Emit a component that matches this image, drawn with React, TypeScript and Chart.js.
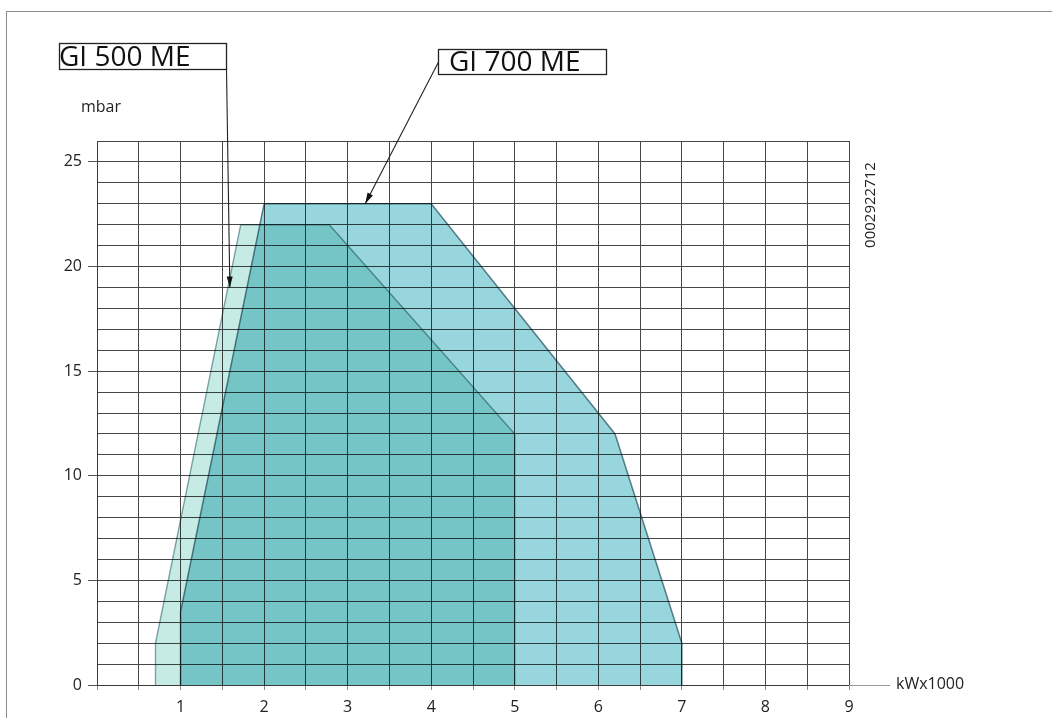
import React, { useEffect, useRef } from "react";
import { Chart, registerables } from "chart.js";

Chart.register(...registerables);

// GI 500 ME working field (kW x 1000 vs mbar)
const GI500_X = [0.7, 0.7, 1.72, 2.78, 5, 5];
const GI500_Y = [0, 2, 22, 22, 12, 0];
// GI 700 ME working field
const GI700_X = [1, 1, 2, 4, 6.2, 7, 7];
const GI700_Y = [0, 3.5, 23, 23, 12, 2, 0];

const X_TICK_LABELS = ["1", "2", "3", "4", "5", "6", "7", "8", "9"];
const Y_TICK_LABELS = ["0", "5", "10", "15", "20", "25"];

const SERIES_NAMES = ["GI 500 ME", "GI 700 ME"];
const Y_UNIT = "mbar";
const X_UNIT = "kWx1000";
const DOC_CODE = "0002922712";

const FONT = "'Open Sans', 'DejaVu Sans', sans-serif";

const toPoints = (xs: number[], ys: number[]) => xs.map((x, i) => ({ x, y: ys[i] }));

function drawArrow(ctx: CanvasRenderingContext2D, x0: number, y0: number, x1: number, y1: number) {
  ctx.beginPath();
  ctx.moveTo(x0, y0);
  ctx.lineTo(x1, y1);
  ctx.stroke();
  const a = Math.atan2(y1 - y0, x1 - x0);
  const len = 11;
  const w = 3;
  ctx.beginPath();
  ctx.moveTo(x1, y1);
  ctx.lineTo(x1 - len * Math.cos(a) + w * Math.sin(a), y1 - len * Math.sin(a) - w * Math.cos(a));
  ctx.lineTo(x1 - len * Math.cos(a) - w * Math.sin(a), y1 - len * Math.sin(a) + w * Math.cos(a));
  ctx.closePath();
  ctx.fill();
}

const blendPlugin = {
  id: "blendMultiply",
  beforeDatasetsDraw(chart: any) {
    chart.ctx.save();
    chart.ctx.globalCompositeOperation = "multiply";
  },
  afterDatasetsDraw(chart: any) {
    chart.ctx.restore();
  },
};

const annotationPlugin = {
  id: "annotations",
  afterDraw(chart: any) {
    const ctx: CanvasRenderingContext2D = chart.ctx;
    const xs = chart.scales.x;
    const ys = chart.scales.y;
    const area = chart.chartArea;
    ctx.save();
    ctx.globalCompositeOperation = "source-over";

    // x axis extension
    ctx.strokeStyle = "#9a9a9a";
    ctx.lineWidth = 1;
    ctx.beginPath();
    ctx.moveTo(area.right, Math.round(area.bottom) + 0.5);
    ctx.lineTo(890, Math.round(area.bottom) + 0.5);
    ctx.stroke();

    ctx.fillStyle = "#222";
    ctx.font = `16px ${FONT}`;
    ctx.textBaseline = "alphabetic";
    ctx.textAlign = "left";
    ctx.fillText(Y_UNIT, 81, 112);
    ctx.textBaseline = "middle";
    ctx.fillText(X_UNIT, 896, 684);

    // rotated document code
    ctx.save();
    ctx.translate(871, 205);
    ctx.rotate(-Math.PI / 2);
    ctx.textAlign = "center";
    ctx.textBaseline = "middle";
    ctx.font = `15px ${FONT}`;
    ctx.fillText(DOC_CODE, 0, 0);
    ctx.restore();

    // series label boxes
    ctx.strokeStyle = "#222";
    ctx.fillStyle = "#111";
    ctx.lineWidth = 1.3;
    ctx.font = `28px ${FONT}`;
    ctx.textAlign = "left";
    ctx.textBaseline = "alphabetic";

    ctx.strokeRect(59.5, 43.5, 167, 26);
    ctx.fillText(SERIES_NAMES[0], 59, 66);
    ctx.lineWidth = 1.1;
    drawArrow(ctx, 226.5, 69.5, xs.getPixelForValue(1.59), ys.getPixelForValue(19));

    ctx.lineWidth = 1.3;
    ctx.strokeRect(438.5, 49.5, 168, 25);
    ctx.fillText(SERIES_NAMES[1], 449, 71);
    ctx.lineWidth = 1.1;
    drawArrow(ctx, 438.5, 62, xs.getPixelForValue(3.21), ys.getPixelForValue(23));

    ctx.restore();
  },
};

export default function App() {
  const ref = useRef<HTMLCanvasElement | null>(null);

  useEffect(() => {
    if (!ref.current) return;
    const chart = new Chart(ref.current, {
      type: "scatter",
      data: {
        datasets: [
          {
            label: SERIES_NAMES[0],
            data: toPoints(GI500_X, GI500_Y),
            showLine: true,
            fill: "origin",
            backgroundColor: "#c6ebe5",
            borderColor: "#86a6aa",
            borderWidth: 1.4,
            pointRadius: 0,
            tension: 0,
          },
          {
            label: SERIES_NAMES[1],
            data: toPoints(GI700_X, GI700_Y),
            showLine: true,
            fill: "origin",
            backgroundColor: "#98d6dd",
            borderColor: "#6a8891",
            borderWidth: 1.5,
            pointRadius: 0,
            tension: 0,
          },
        ],
      },
      options: {
        responsive: false,
        animation: false,
        devicePixelRatio: 1,
        layout: { padding: { left: 0, top: 141, right: 203, bottom: 0 } },
        plugins: {
          legend: { display: false },
          tooltip: { enabled: false },
        },
        scales: {
          x: {
            type: "linear",
            min: 0,
            max: 9,
            afterFit: (s: any) => {
              s.height = 33;
            },
            ticks: {
              stepSize: 0.5,
              autoSkip: false,
              maxRotation: 0,
              padding: 8,
              color: "#222",
              font: { family: FONT, size: 16 },
              callback: (v: any) => {
                const n = Number(v);
                return Number.isInteger(n) && X_TICK_LABELS.includes(String(n)) ? String(n) : "";
              },
            },
            grid: { color: "#474747", lineWidth: 1, tickLength: 5, tickColor: "#8a8a8a" },
            border: { color: "#3a3a3a", width: 1 },
          },
          y: {
            type: "linear",
            min: 0,
            max: 26,
            afterFit: (s: any) => {
              s.width = 97;
            },
            ticks: {
              stepSize: 1,
              autoSkip: false,
              padding: 6,
              color: "#222",
              font: { family: FONT, size: 16 },
              callback: (v: any) => (Y_TICK_LABELS.includes(String(v)) ? String(v) : ""),
            },
            grid: {
              color: "#474747",
              lineWidth: 1,
              tickLength: 9,
              tickColor: (c: any) =>
                c.tick && Y_TICK_LABELS.includes(String(c.tick.value)) ? "#555" : "rgba(0,0,0,0)",
            },
            border: { color: "#3a3a3a", width: 1 },
          },
        },
      },
      plugins: [blendPlugin, annotationPlugin],
    } as any);
    return () => chart.destroy();
  }, []);

  return (
    <div
      style={{
        position: "absolute",
        left: 0,
        top: 0,
        width: 1052,
        height: 718,
        overflow: "hidden",
        background: "#fff",
      }}
    >
      <div
        style={{
          position: "absolute",
          left: 6,
          top: 11,
          width: 1046,
          height: 707,
          borderTop: "1.5px solid #8e8a94",
          borderLeft: "1.5px solid #8e8a94",
          boxSizing: "border-box",
        }}
      />
      <canvas ref={ref} width={1052} height={718} style={{ position: "absolute", left: 0, top: 0 }} />
    </div>
  );
}
